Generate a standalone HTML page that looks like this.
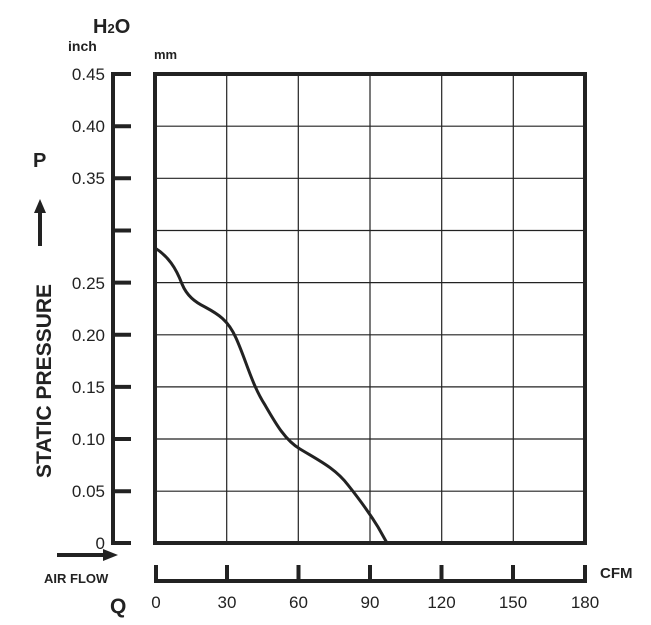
<!DOCTYPE html>
<html><head><meta charset="utf-8"><style>
html,body{margin:0;padding:0;background:#fff;}
svg{display:block;font-family:"Liberation Sans",Arial,sans-serif;}
</style></head><body>
<svg width="651" height="625" viewBox="0 0 651 625" xmlns="http://www.w3.org/2000/svg">
<g stroke="#222" stroke-width="1.2" fill="none">
<line x1="226.7" y1="74" x2="226.7" y2="543"/>
<line x1="298.3" y1="74" x2="298.3" y2="543"/>
<line x1="370" y1="74" x2="370" y2="543"/>
<line x1="441.7" y1="74" x2="441.7" y2="543"/>
<line x1="513.3" y1="74" x2="513.3" y2="543"/>
<line x1="155" y1="126.2" x2="585" y2="126.2"/>
<line x1="155" y1="178.3" x2="585" y2="178.3"/>
<line x1="155" y1="230.5" x2="585" y2="230.5"/>
<line x1="155" y1="282.6" x2="585" y2="282.6"/>
<line x1="155" y1="334.8" x2="585" y2="334.8"/>
<line x1="155" y1="386.9" x2="585" y2="386.9"/>
<line x1="155" y1="439" x2="585" y2="439"/>
<line x1="155" y1="491.2" x2="585" y2="491.2"/>
</g>
<rect x="155" y="74" width="430" height="469" fill="none" stroke="#222" stroke-width="4"/>
<path d="M155,248 C168,256 176,268 182,284 C187,296 195,302 205,307 C218,314 228,320 236,338 C246,360 252,385 265,405 C276,424 285,440 300,449 C318,460 335,468 348,485 C360,500 370,514 378,527 L387,543" fill="none" stroke="#222" stroke-width="3"/>
<g stroke="#222" stroke-width="4" fill="none">
<line x1="113" y1="72" x2="113" y2="545"/>
<line x1="111" y1="74" x2="131" y2="74"/>
<line x1="113" y1="126.2" x2="131" y2="126.2"/>
<line x1="113" y1="178.3" x2="131" y2="178.3"/>
<line x1="113" y1="230.5" x2="131" y2="230.5"/>
<line x1="113" y1="282.6" x2="131" y2="282.6"/>
<line x1="113" y1="334.8" x2="131" y2="334.8"/>
<line x1="113" y1="386.9" x2="131" y2="386.9"/>
<line x1="113" y1="439" x2="131" y2="439"/>
<line x1="113" y1="491.2" x2="131" y2="491.2"/>
<line x1="111" y1="543" x2="131" y2="543"/>
<line x1="156" y1="581" x2="585" y2="581"/>
<line x1="156" y1="565" x2="156" y2="583"/>
<line x1="227" y1="565" x2="227" y2="583"/>
<line x1="298.5" y1="565" x2="298.5" y2="583"/>
<line x1="370" y1="565" x2="370" y2="583"/>
<line x1="441.5" y1="565" x2="441.5" y2="583"/>
<line x1="513" y1="565" x2="513" y2="583"/>
<line x1="585" y1="565" x2="585" y2="583"/>
</g>
<g font-size="17" fill="#222" text-anchor="end">
<text x="105" y="80">0.45</text>
<text x="105" y="132">0.40</text>
<text x="105" y="184">0.35</text>
<text x="105" y="289">0.25</text>
<text x="105" y="341">0.20</text>
<text x="105" y="393">0.15</text>
<text x="105" y="445">0.10</text>
<text x="105" y="497">0.05</text>
<text x="105" y="549">0</text>
</g>
<g font-size="17" fill="#222" text-anchor="middle">
<text x="156" y="608">0</text>
<text x="227" y="608">30</text>
<text x="298.5" y="608">60</text>
<text x="370" y="608">90</text>
<text x="441.5" y="608">120</text>
<text x="513" y="608">150</text>
<text x="585" y="608">180</text>
</g>
<g font-weight="bold" fill="#222">
<text x="93" y="33" font-size="20">H<tspan font-size="13">2</tspan>O</text>
<text x="68" y="51" font-size="14">inch</text>
<text x="154" y="59" font-size="13">mm</text>
<text x="33" y="167" font-size="20">P</text>
<text x="600" y="578" font-size="15">CFM</text>
<text x="44" y="583" font-size="13">AIR FLOW</text>
<text x="110" y="613" font-size="21">Q</text>
<text transform="translate(51,381) rotate(-90)" text-anchor="middle" font-size="21">STATIC PRESSURE</text>
</g>
<line x1="40" y1="246" x2="40" y2="210" stroke="#222" stroke-width="4"/>
<polygon points="40,199 34,213 46,213" fill="#222"/>
<line x1="57" y1="555" x2="105" y2="555" stroke="#222" stroke-width="4"/>
<polygon points="118,555 103,549 103,561" fill="#222"/>
</svg>
</body></html>
